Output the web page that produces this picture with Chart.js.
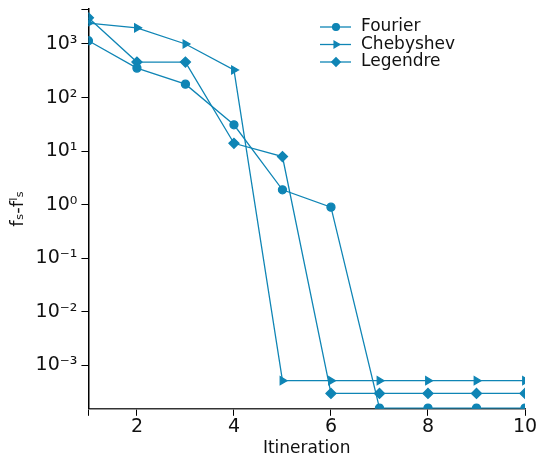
<!DOCTYPE html>
<html>
<head>
<meta charset="utf-8">
<script src="https://cdn.jsdelivr.net/npm/chart.js@4"></script>
<style>
  html, body { margin: 0; padding: 0; background: #fff; }
  #wrap { width: 541px; height: 461px; }
</style>
</head>
<body>
<div id="wrap"><canvas id="myChart"></canvas></div>
<script>
const iterations = [1, 2, 3, 4, 5, 6, 7, 8, 9, 10];
const fourier = [1150, 355, 178, 31, 1.9, 0.9, 1.6e-4, 1.6e-4, 1.6e-4, 1.6e-4];
const chebyshev = [2450, 2000, 1000, 327, 5.2e-4, 5.2e-4, 5.2e-4, 5.2e-4, 5.2e-4, 5.2e-4];
const legendre = [3080, 460, 460, 14, 7.9, 3.0e-4, 3.0e-4, 3.0e-4, 3.0e-4, 3.0e-4];
const xTicks = [1, 2, 4, 6, 8, 10];
const yTicks = [1e-3, 1e-2, 1e-1, 1e0, 1e1, 1e2, 1e3];

const blue = '#0f85b5';
const sup = { '-': '⁻', '0': '⁰', '1': '¹', '2': '²', '3': '³' };
const font = "'DejaVu Sans', sans-serif";

function series(label, values, style, radius, rotation) {
  return {
    label: label,
    data: iterations.map((x, i) => ({ x: x, y: values[i] })),
    borderColor: blue,
    backgroundColor: blue,
    borderWidth: 1.3,
    pointStyle: style,
    pointRadius: radius,
    pointRotation: rotation,
    tension: 0,
  };
}

const lineLegend = {
  id: 'lineLegend',
  afterDraw(chart) {
    const ctx = chart.ctx;
    ctx.save();
    chart.data.datasets.forEach((ds, i) => {
      const y = 27 + i * 17.5;
      ctx.strokeStyle = blue;
      ctx.lineWidth = 1.3;
      ctx.beginPath();
      ctx.moveTo(320, y);
      ctx.lineTo(351, y);
      ctx.stroke();
      ctx.fillStyle = blue;
      Chart.helpers.drawPoint(ctx, { pointStyle: ds.pointStyle, radius: ds.pointRadius * 0.85, rotation: ds.pointRotation, borderWidth: 1 }, 336, y);
      ctx.fillStyle = '#111';
      ctx.font = '17px ' + font;
      ctx.textBaseline = 'middle';
      ctx.fillText(ds.label, 361, y);
    });
    ctx.restore();
  }
};

new Chart(document.getElementById('myChart'), {
  type: 'line',
  data: {
    datasets: [
      series('Fourier', fourier, 'circle', 4, 0),
      series('Chebyshev', chebyshev, 'triangle', 4.5, 90),
      series('Legendre', legendre, 'rectRot', 5, 0),
    ],
  },
  options: {
    responsive: true,
    maintainAspectRatio: false,
    animation: false,
    layout: { padding: { top: 9, right: 16, left: 4, bottom: 2 } },
    plugins: { legend: { display: false }, tooltip: { enabled: false } },
    scales: {
      x: {
        type: 'linear',
        min: 1,
        max: 10,
        afterBuildTicks: (axis) => { axis.ticks = xTicks.map(v => ({ value: v })); },
        ticks: {
          color: '#111',
          font: { family: font, size: 19 },
          padding: 0,
          maxRotation: 0,
          callback: (v) => (v === 1 ? '' : String(v)),
        },
        grid: { drawOnChartArea: false, color: '#000', tickLength: 7 },
        border: { color: '#333', width: 1.5 },
        title: { display: true, text: 'Itineration', color: '#111', font: { family: font, size: 17 }, padding: { top: 0, bottom: 0 } },
      },
      y: {
        type: 'logarithmic',
        min: 1.55e-4,
        max: 4.5e3,
        afterBuildTicks: (axis) => { axis.ticks = yTicks.concat([4.5e3]).map(v => ({ value: v })); },
        ticks: {
          color: '#111',
          font: (c) => ({ family: font, size: c.tick && c.tick.value > 2e3 ? 1 : 19 }),
          padding: 4,
          callback: (v) => {
            if (v > 2e3) return '';
            const e = Math.round(Math.log10(v));
            return '10' + String(e).split('').map(c => sup[c]).join('');
          },
        },
        grid: { drawOnChartArea: false, color: '#000', tickLength: 7 },
        border: { color: '#000', width: 1.5 },
        title: { display: true, text: 'fₛ-fˡₛ', color: '#111', font: { family: font, size: 18 }, padding: { bottom: 2 } },
      },
    },
  },
  plugins: [lineLegend],
});
</script>
</body>
</html>
